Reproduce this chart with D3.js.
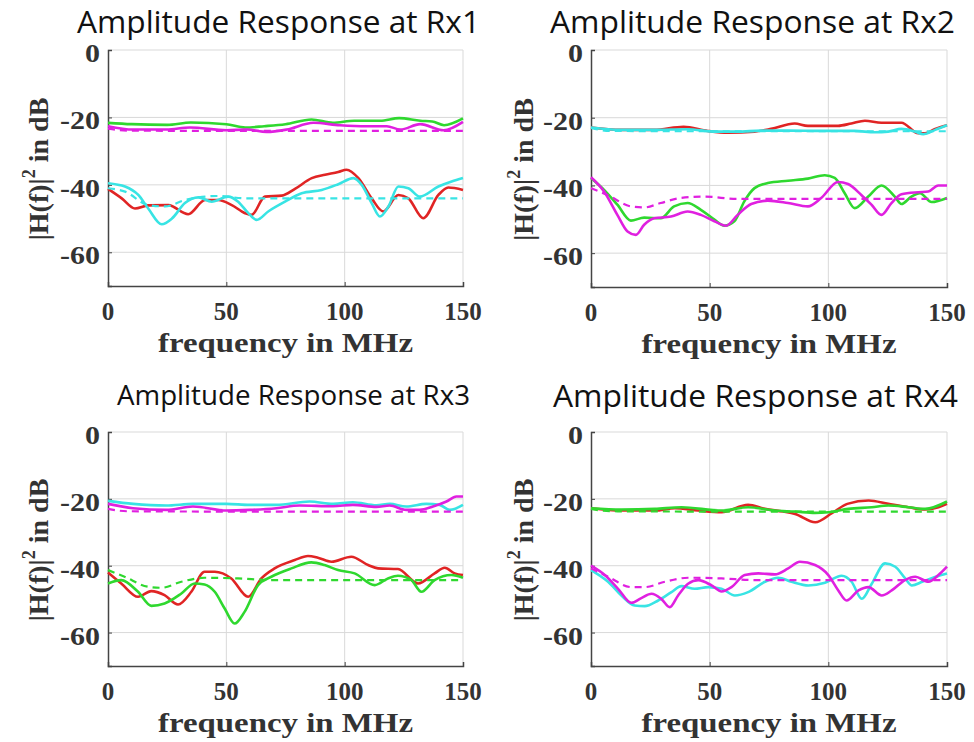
<!DOCTYPE html>
<html>
<head>
<meta charset="utf-8">
<script src="https://cdn.jsdelivr.net/npm/d3@7"></script>
<style>
  body { margin: 0; background: #fff; }
</style>
</head>
<body>
<div id="chart"></div>
<script>
/* Amplitude response at four receivers: |H(f)|^2 in dB vs frequency */

const TITLES = ["Amplitude Response at Rx1", "Amplitude Response at Rx2",
                "Amplitude Response at Rx3", "Amplitude Response at Rx4"];
const FREQ_TICKS = [0, 50, 100, 150];
const DB_TICKS = [0, -20, -40, -60];
const FREQ_DOMAIN = [0, 150];
const DB_DOMAIN = [-70, 0];

// Rx1  [MHz, dB]
const rx1Green = [[0,-21.6],[10,-22],[25,-22.2],[35,-21.5],[50,-22],[58,-23],[66,-22.6],[75,-22],[86,-20.6],[95,-21.6],[104,-21],[115,-21],[123,-20.2],[132,-21],[137,-21.2],[142,-22.3],[150,-20.3]];
const rx1Magenta = [[0,-22.6],[10.6,-23.6],[24.7,-23.6],[34.6,-23],[50,-23.8],[58.6,-23.6],[67,-24.3],[75.5,-23.6],[86.8,-21.6],[98,-22.3],[109.4,-22.6],[117.8,-22.6],[123.5,-23.6],[131.9,-22],[141.8,-23.8],[150,-21.3]];
const rx1MagentaRef = [[0,-23.3],[8,-23.9],[50,-24],[100,-24],[150,-24]];
const rx1Red = [[0,-41.2],[5.8,-44],[11.4,-47],[17,-46.1],[25.5,-46],[33.9,-48.7],[41,-44.5],[46.6,-44.5],[52.3,-46],[57.9,-48.4],[60.7,-48.9],[66.3,-43.5],[73.4,-43.2],[79,-41.2],[86.1,-38],[91.7,-37],[97.3,-36.2],[100.8,-35.5],[105.8,-38],[111.4,-44],[116.3,-47.9],[122.7,-43],[126.9,-44],[133.2,-49.9],[139.6,-43],[143.8,-40.8],[150,-41.5]];
const rx1Cyan = [[0,-39.5],[7.2,-40.5],[12.8,-43],[17,-47],[22.7,-51.7],[27,-50],[32.5,-45.4],[38.2,-43.7],[43.8,-45],[50.8,-43.5],[55,-45],[59.3,-48.4],[62.8,-50.4],[67.7,-47.9],[74.8,-45],[81.8,-42.5],[90.3,-41.5],[97.3,-39.8],[103.7,-38],[107.2,-40],[111.4,-45.4],[114.9,-49.4],[118.5,-46.4],[122.7,-40.5],[126.9,-41],[131.8,-43.5],[139.6,-40.5],[145.2,-39],[150,-38]];
const rx1CyanRef = [[0,-41],[7.2,-42],[17,-46],[24.1,-46.4],[32.5,-44.5],[46.6,-43.3],[57.9,-44],[150,-44]];

// Rx2
const rx2Red = [[0,-22.9],[12.5,-23.6],[26.6,-23.6],[39,-22.7],[49.2,-23.9],[57.6,-24.4],[68.9,-24.1],[75.9,-23.3],[85.8,-21.7],[91.4,-22.4],[104.1,-22.4],[109.7,-21.7],[115.4,-20.9],[122.4,-21.5],[130.8,-21.5],[137.9,-24.6],[140.7,-24.6],[145,-23.3],[150,-22.2]];
const rx2Cyan = [[0,-22.9],[12.5,-23.6],[26.6,-23.6],[40.7,-23.4],[52,-24.1],[61.8,-24.1],[71.7,-23.8],[83,-23.8],[97,-23.9],[111.1,-23.9],[119.6,-24.3],[125.2,-24.1],[130.8,-23.3],[136.5,-24.1],[140,-24.9],[145,-23.6],[150,-22.2]];
const rx2CyanRef = [[0,-23],[8,-23.9],[50,-24],[100,-24],[150,-24]];
const rx2Green = [[0,-37.8],[5.5,-41.3],[11.1,-45.7],[16.8,-50.4],[22.4,-49.5],[29.4,-49.7],[35,-46.2],[40.7,-45.2],[46.3,-47.2],[52,-50.1],[56.2,-51.9],[60.4,-50.6],[64.6,-44.7],[68.9,-40.8],[74.5,-39.3],[83,-38.6],[91.4,-38],[98.5,-37],[102.7,-37.8],[106.9,-42.3],[111.1,-46.7],[116.8,-43.3],[122.4,-40],[128,-43.3],[130.8,-45.5],[135,-43.3],[138.6,-42.3],[143.5,-44.9],[150,-43.7]];
const rx2Magenta = [[0,-37.6],[5.5,-41.8],[11.1,-48.7],[15.4,-53.6],[18.9,-54.6],[22.4,-51.6],[26.6,-49.7],[33.7,-49.2],[40.7,-47.7],[46.3,-48.7],[52,-50.6],[56.9,-51.9],[61.8,-48.7],[67.5,-45.5],[74.5,-44.5],[83,-45.2],[91.4,-46.2],[97,-43.7],[104.1,-39],[108.3,-39.6],[113.9,-42.8],[118.2,-45.7],[122.4,-48.7],[126.6,-45.2],[130.8,-42.6],[137.9,-42],[142.1,-41.8],[146.3,-40],[150,-40]];
const rx2MagentaRef = [[0,-40.8],[6.9,-42.8],[16.8,-46.2],[22.4,-46.5],[29.4,-45.2],[37.9,-43.7],[47.8,-43.3],[61.8,-44],[150,-44]];

// Rx3
const rx3Cyan = [[0,-20.6],[10.6,-21.5],[24.6,-22],[35.9,-21.5],[50,-21.5],[59.9,-21.8],[71.1,-21.8],[85.2,-20.8],[95.1,-21.5],[103.5,-21],[113.4,-21.9],[119,-21.5],[126,-22.3],[134.5,-21.5],[140.1,-21.8],[144.4,-23.3],[150,-21.8]];
const rx3Magenta = [[0,-21.5],[10.6,-22.8],[24.6,-23.3],[35.9,-22.3],[50,-23.5],[59.9,-23.3],[71.1,-22.8],[81,-22],[95.1,-22.2],[103.5,-21.8],[113.4,-22.4],[119,-22],[126,-23.3],[131.7,-23.3],[137.3,-22.3],[143,-20.8],[147.2,-19.3],[150,-19.3]];
const rx3MagentaRef = [[0,-23],[8,-23.7],[50,-23.8],[100,-23.8],[150,-23.8]];
const rx3Red = [[0,-42],[5.6,-45.3],[12.7,-49.3],[18.3,-47.6],[23.9,-48.8],[29.6,-51.6],[35.2,-47.8],[40.8,-41.8],[45.1,-41.8],[52.1,-43.8],[59.2,-49.3],[64.8,-43.8],[70.4,-40.8],[78.9,-38.3],[84.5,-37.1],[88.7,-37.6],[94.4,-38.8],[102.8,-37.3],[109.9,-39.8],[114.1,-40.8],[122.5,-41],[131,-45.3],[138,-42.3],[142.3,-40.6],[146.5,-42.3],[150,-42.8]];
const rx3Green = [[0,-45.3],[5.6,-44.3],[12.7,-47.8],[18.3,-52],[23.9,-51.3],[31,-48.3],[36.6,-45.3],[40.8,-45.6],[45.1,-47.8],[49.3,-52.8],[53.5,-57.3],[57.7,-53.8],[63.4,-45.8],[69,-43.3],[77.5,-40.8],[85.9,-39],[91.5,-39.8],[97.2,-41.3],[104.2,-42.3],[112.7,-45.8],[118.3,-43.8],[122.5,-43],[128.2,-44.3],[132.4,-47.8],[138,-44.3],[145.1,-42.8],[150,-43.6]];
const rx3GreenRef = [[0,-41.3],[7,-43.3],[16.9,-46.3],[22.5,-46.6],[31,-44.8],[40.8,-43.6],[54.9,-43.8],[69,-44.3],[150,-44.3]];

// Rx4
const rx4Red = [[0,-22.8],[12.8,-23.5],[26.9,-23.5],[35.3,-22.8],[45.1,-23.5],[55,-24],[66.2,-21.8],[73.3,-23],[81,-23.8],[86,-24.5],[94.5,-27],[101.5,-24.3],[108,-21.5],[117,-20.5],[125.3,-21.5],[133.8,-22.5],[140.8,-23.2],[146.4,-22.5],[150,-21.5]];
const rx4Green = [[0,-22.8],[12.8,-23.2],[26.9,-23],[38.1,-22.5],[55,-23.5],[66.2,-22.5],[77.5,-23.5],[85.9,-23.8],[94.4,-24.2],[100,-24],[108.4,-23],[118.3,-22.5],[125.3,-22],[133.8,-22.5],[140.8,-23],[150,-20.8]];
const rx4GreenRef = [[0,-23],[8,-23.7],[50,-23.8],[100,-23.8],[150,-23.8]];
const rx4Cyan = [[0,-41.3],[7.2,-44.8],[12.8,-48.9],[18.4,-51.9],[22.6,-52.1],[28.3,-50.4],[33.9,-47.9],[38.1,-46.1],[43.7,-46.9],[49.4,-46.4],[55,-46.9],[60.6,-48.9],[66.2,-47.9],[73.3,-44.8],[78.9,-43.6],[84.5,-44.8],[91.6,-45.9],[98.6,-45.1],[105.6,-43],[109.8,-44.8],[114.1,-49.9],[118.3,-45.4],[123.9,-39.3],[128.2,-40.3],[132.4,-43.8],[135.2,-45.9],[139.6,-44.8],[145.2,-43.3],[150,-42.3]];
const rx4Magenta = [[0,-40],[5.8,-42.8],[11.4,-46.9],[17,-51.1],[21.2,-49.7],[25.5,-48.4],[29.7,-50],[33.2,-52.4],[36.7,-48.9],[40.9,-45.4],[45.2,-44.3],[50.8,-45.9],[55,-47.7],[59.2,-46.4],[64.8,-42.8],[70.5,-42.3],[77.5,-42.6],[83.1,-40.8],[88,-38.8],[94.4,-39.8],[100,-42.8],[104.2,-47.4],[107.7,-50.4],[112.7,-47.4],[116.9,-46.4],[122.5,-48.9],[126.7,-47.4],[132.3,-44.3],[136.6,-43.3],[142.2,-44.8],[146.4,-42.8],[150,-40.3]];
const rx4MagentaRef = [[0,-40.8],[7.2,-43.3],[17,-46.4],[22.6,-46.4],[31.1,-44.8],[40.9,-43.6],[55,-43.8],[69.1,-44.3],[150,-44.3]];

const COLORS = { red: "#e02424", green: "#2fd82f", magenta: "#e020e0", cyan: "#38e4e4" };

const W = 974, H = 742;
const SERIF = "'Liberation Serif', 'Times New Roman', serif";

const PANELS = [
  { box: [108, 463, 50, 286], title: [77, 480, 33, 31],
    series: [[rx1Green, "green"], [rx1Magenta, "magenta"], [rx1MagentaRef, "magenta", true],
             [rx1Red, "red"], [rx1Cyan, "cyan"], [rx1CyanRef, "cyan", true]] },
  { box: [591, 947, 50, 287], title: [550, 955, 33, 31],
    series: [[rx2Red, "red"], [rx2Cyan, "cyan"], [rx2CyanRef, "cyan", true],
             [rx2Green, "green"], [rx2Magenta, "magenta"], [rx2MagentaRef, "magenta", true]] },
  { box: [108, 463, 432, 666], title: [117, 470, 405, 28],
    series: [[rx3Cyan, "cyan"], [rx3Magenta, "magenta"], [rx3MagentaRef, "magenta", true],
             [rx3Red, "red"], [rx3Green, "green"], [rx3GreenRef, "green", true]] },
  { box: [591, 947, 432, 666], title: [553, 958, 407, 31],
    series: [[rx4Red, "red"], [rx4Green, "green"], [rx4GreenRef, "green", true],
             [rx4Cyan, "cyan"], [rx4Magenta, "magenta"], [rx4MagentaRef, "magenta", true]] }
];

const svg = d3.select("#chart").append("svg")
  .attr("width", W).attr("height", H)
  .style("display", "block");

PANELS.forEach((p, i) => {
  const [x0, x1, y0, y1] = p.box;
  const w = x1 - x0, h = y1 - y0;
  const x = d3.scaleLinear().domain(FREQ_DOMAIN).range([0, w]);
  const y = d3.scaleLinear().domain(DB_DOMAIN).range([h, 0]);
  const g = svg.append("g").attr("transform", `translate(${x0},${y0})`);

  /* grid + light frame */
  g.append("g").selectAll("line").data(FREQ_TICKS.slice(1)).enter().append("line")
    .attr("x1", d => x(d)).attr("x2", d => x(d)).attr("y1", 0).attr("y2", h)
    .attr("stroke", "#d9d9d9").attr("stroke-width", 1);
  g.append("g").selectAll("line").data(DB_TICKS).enter().append("line")
    .attr("x1", 0).attr("x2", w).attr("y1", d => y(d)).attr("y2", d => y(d))
    .attr("stroke", "#d9d9d9").attr("stroke-width", 1);

  /* axes */
  const ax = g.append("g").attr("transform", `translate(0,${h})`)
    .call(d3.axisBottom(x).tickValues(FREQ_TICKS).tickSize(-4).tickFormat(""));
  const ay = g.append("g")
    .call(d3.axisLeft(y).tickValues(DB_TICKS).tickSize(-4).tickFormat(""));
  [ax, ay].forEach(a => {
    a.select(".domain").attr("stroke", "#444").attr("stroke-width", 1.5);
    a.selectAll(".tick line").attr("stroke", "#444");
  });

  /* tick labels */
  g.append("g").selectAll("text").data(DB_TICKS).enter().append("text")
    .attr("x", -8).attr("y", d => y(d) + 12)
    .attr("text-anchor", "end")
    .attr("textLength", d => d === 0 ? 15 : 40).attr("lengthAdjust", "spacingAndGlyphs")
    .style("font-family", SERIF).style("font-weight", "bold").style("font-size", "25px")
    .style("fill", "#333")
    .text(d => d === 0 ? "0" : "-" + Math.abs(d));
  g.append("g").selectAll("text").data(FREQ_TICKS).enter().append("text")
    .attr("x", d => x(d)).attr("y", h + 34)
    .attr("text-anchor", "middle")
    .style("font-family", SERIF).style("font-weight", "bold").style("font-size", "25px")
    .style("fill", "#333")
    .text(d => d);

  /* axis titles */
  g.append("text").attr("x", w / 2).attr("y", h + 66)
    .attr("text-anchor", "middle")
    .attr("textLength", 255).attr("lengthAdjust", "spacingAndGlyphs")
    .style("font-family", SERIF).style("font-weight", "bold").style("font-size", "27px")
    .style("fill", "#333")
    .text("frequency in MHz");

  const yl = g.append("text")
    .attr("transform", `translate(${i % 2 ? -58 : -60},${h / 2 + 1}) rotate(-90)`)
    .attr("text-anchor", "middle")
    .style("font-family", SERIF).style("font-weight", "bold").style("font-size", "28px")
    .style("fill", "#333");
  yl.append("tspan").text("|H(f)|");
  yl.append("tspan").attr("dy", -13).style("font-size", "18px").text("2");
  yl.append("tspan").attr("dy", 13).text(" in dB");

  /* title */
  svg.append("text").attr("x", p.title[0]).attr("y", p.title[2])
    .attr("textLength", p.title[1] - p.title[0]).attr("lengthAdjust", "spacingAndGlyphs")
    .style("font-family", "'Open Sans', sans-serif").style("font-size", p.title[3] + "px")
    .style("fill", "#111")
    .text(TITLES[i]);

  /* curves */
  const line = d3.line().x(d => x(d[0])).y(d => y(d[1])).curve(d3.curveMonotoneX);
  p.series.forEach(([data, c, dashed]) => {
    g.append("path").datum(data)
      .attr("fill", "none")
      .attr("stroke", COLORS[c])
      .attr("stroke-width", dashed ? 2.2 : 2.6)
      .attr("stroke-dasharray", dashed ? "7,5" : null)
      .attr("d", line);
  });
});
</script>
</body>
</html>
